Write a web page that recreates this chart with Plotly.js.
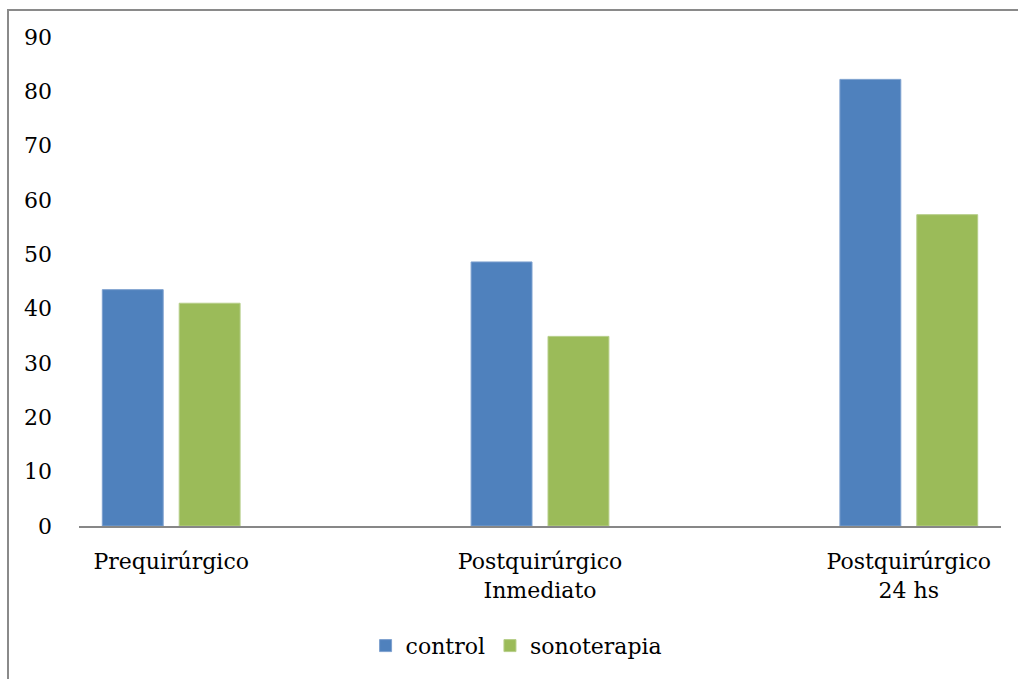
<!DOCTYPE html>
<html>
<head>
<meta charset="utf-8">
<script src="https://cdn.plot.ly/plotly-3.0.1.min.js"></script>
<style>
  html, body { margin: 0; padding: 0; background: #fff; }
  #wrap { position: relative; width: 1018px; height: 679px; overflow: hidden; }
  #chart { position: absolute; left: 0; top: 0; width: 1018px; height: 679px; }
  #frame { position: absolute; left: 7px; top: 9px; width: 1100px; height: 800px;
           border-left: 2px solid #8a8a8a; border-top: 2px solid #8a8a8a; pointer-events: none; }
</style>
</head>
<body>
<div id="wrap">
  <div id="chart"></div>
  <div id="frame"></div>
</div>
<script>
const categories = ["Prequirúrgico", "Postquirúrgico<br>Inmediato", "Postquirúrgico<br>24 hs"];
const controlValues = [43.5, 48.6, 82.2];
const sonoterapiaValues = [41.0, 34.9, 57.3];
const yTicks = [0, 10, 20, 30, 40, 50, 60, 70, 80, 90];

const font = { family: "DejaVu Serif", size: 22, color: "#000" };

const data = [
  { type: "bar", name: "control", x: categories, y: controlValues,
    marker: { color: "#4F81BD", line: { color: "#7DA0CF", width: 1 } } },
  { type: "bar", name: "sonoterapia", x: categories, y: sonoterapiaValues,
    marker: { color: "#9BBB59", line: { color: "#B6CE88", width: 1 } } }
];

const layout = {
  width: 1018, height: 679,
  margin: { l: 79, r: 17, t: 37, b: 153, pad: 0 },
  paper_bgcolor: "rgba(0,0,0,0)",
  plot_bgcolor: "rgba(0,0,0,0)",
  font: font,
  barmode: "group",
  bargap: 0.583,
  bargroupgap: 0.208,
  showlegend: true,
  legend: { orientation: "h", x: 0.4746, xanchor: "center", y: -0.245, yanchor: "middle",
            font: font, bgcolor: "rgba(0,0,0,0)" },
  xaxis: {
    type: "category", range: [-0.25, 2.25], fixedrange: true,
    showgrid: false, zeroline: false, showline: true, linecolor: "#878787", linewidth: 2,
    ticks: "", tickfont: font, ticklabelstandoff: 15
  },
  yaxis: {
    range: [0, 90], tickvals: yTicks, ticktext: yTicks.map(String),
    showgrid: false, zeroline: false, showline: false, ticks: "",
    tickfont: font, ticklabelstandoff: 26
  }
};

Plotly.newPlot("chart", data, layout, { staticPlot: true, displayModeBar: false });
</script>
</body>
</html>
